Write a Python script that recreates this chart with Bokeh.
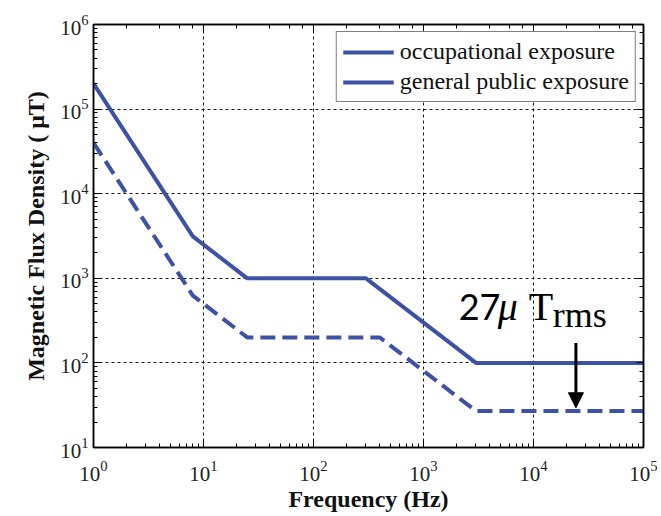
from bokeh.plotting import figure
from bokeh.models import (LogAxis, Legend, LegendItem, Label, Arrow, NormalHead,
                          CustomJSTickFormatter, Range1d)
from bokeh.embed import file_html
from bokeh.resources import INLINE

# Reference levels for magnetic flux density (uT) versus frequency (Hz)
freq_occupational = [1, 8, 25, 300, 3000, 100000]
b_occupational = [200000, 3125, 1000, 1000, 100, 100]
freq_public = [1, 8, 25, 400, 3000, 100000]
b_public = [40000, 625, 200, 200, 27, 27]

legend_labels = ["occupational exposure", "general public exposure"]
x_label = "Frequency (Hz)"
y_label = "Magnetic Flux Density ( \u03bcT)"
public_floor = 27  # uT rms, general public level above 3 kHz

LINE_COLOR = "#3D52A6"
SERIF = "Liberation Serif"

p = figure(width=661, height=516, x_axis_type="log", y_axis_type="log",
           x_range=Range1d(1, 1e5), y_range=Range1d(10, 1e6),
           output_backend="svg", toolbar_location=None,
           min_border_left=93, min_border_right=18,
           min_border_top=24, min_border_bottom=69,
           background_fill_color="white", border_fill_color="white")

bottom_axis = p.below[0]
left_axis = p.left[0]

p.outline_line_color = "black"
p.outline_line_width = 1.5

for grid in (p.xgrid[0], p.ygrid[0]):
    grid.grid_line_color = "black"
    grid.grid_line_dash = "3 3"
    grid.grid_line_width = 1
    grid.grid_line_alpha = 0.9

# mirrored axes on top and right, ticks only
top_axis = LogAxis(formatter=CustomJSTickFormatter(code="return ''"))
right_axis = LogAxis(formatter=CustomJSTickFormatter(code="return ''"))
p.add_layout(top_axis, "above")
p.add_layout(right_axis, "right")

for ax in (bottom_axis, left_axis, top_axis, right_axis):
    ax.axis_line_color = "black"
    ax.axis_line_width = 1.5
    ax.major_tick_line_color = "black"
    ax.minor_tick_line_color = "black"
    ax.major_tick_in = 7
    ax.major_tick_out = 0
    ax.minor_tick_in = 4
    ax.minor_tick_out = 0
    ax.major_label_text_font = SERIF
    ax.major_label_text_font_size = "21px"
    ax.major_label_text_color = "#222222"

top_axis.major_label_standoff = 0
right_axis.major_label_standoff = 0
bottom_axis.major_label_standoff = 13
left_axis.major_label_standoff = 5

bottom_axis.axis_label = x_label
left_axis.axis_label = y_label
for ax in (bottom_axis, left_axis):
    ax.axis_label_text_font = SERIF
    ax.axis_label_text_font_style = "bold"
    ax.axis_label_text_font_size = "24px"
    ax.axis_label_text_color = "#111111"
bottom_axis.axis_label_standoff = 2
left_axis.axis_label_standoff = 8

# limit curves
p.line(freq_occupational, b_occupational, line_color=LINE_COLOR, line_width=4)
p.line(freq_public, b_public, line_color=LINE_COLOR, line_width=4,
       line_dash="15 7")

# legend keys are drawn as solid strokes (single point: nothing drawn in the frame)
key_occ = p.line(freq_occupational[:1], b_occupational[:1],
                 line_color=LINE_COLOR, line_width=4)
key_pub = p.line(freq_public[:1], b_public[:1],
                 line_color=LINE_COLOR, line_width=4)
legend = Legend(items=[LegendItem(label=legend_labels[0], renderers=[key_occ]),
                       LegendItem(label=legend_labels[1], renderers=[key_pub])],
                location="top_right", margin=7, padding=6, spacing=3,
                glyph_width=51, glyph_height=26, label_standoff=6,
                label_text_font=SERIF, label_text_font_size="24px",
                label_text_color="#111111",
                border_line_color="black", border_line_width=1.5,
                background_fill_alpha=1)
p.add_layout(legend, "center")

# annotation of the general public level
p.add_layout(Label(x=2090, y=459, text="27", text_font="Lato",
                   text_font_size="36px", text_color="black",
                   text_baseline="alphabetic"))
p.add_layout(Label(x=4735, y=458, text="\u03bc", text_font=SERIF,
                   text_font_style="italic", text_font_size="40px",
                   text_color="black", text_baseline="alphabetic"))
p.add_layout(Label(x=9060, y=459, text="T", text_font=SERIF,
                   text_font_size="40px", text_color="black",
                   text_baseline="alphabetic"))
p.add_layout(Label(x=15000, y=366, text="rms", text_font=SERIF,
                   text_font_size="36px", text_color="black",
                   text_baseline="alphabetic"))
p.add_layout(Arrow(end=NormalHead(size=15, fill_color="black",
                                  line_color="black"),
                   x_start=24300, y_start=172, x_end=24300, y_end=29.5,
                   line_width=3, line_color="black"))

open("out.html", "w").write(file_html(p, INLINE))
